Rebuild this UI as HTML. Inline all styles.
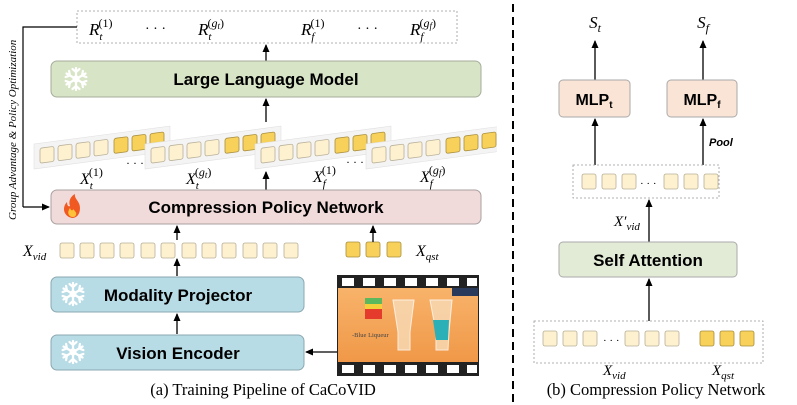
<!DOCTYPE html>
<html><head><meta charset="utf-8"><style>
body{margin:0;background:#fff}
svg{display:block}
.s{font-family:"Liberation Serif",serif}
.b{font-family:"Liberation Sans",sans-serif;font-weight:bold}
</style></head><body>
<svg width="797" height="405" viewBox="0 0 797 405" xmlns="http://www.w3.org/2000/svg">
<defs>
<marker id="a" markerWidth="8" markerHeight="8" refX="7" refY="4" orient="auto" markerUnits="userSpaceOnUse"><path d="M0,0.5 L8,4 L0,7.5 Z" fill="#000"/></marker>
<g id="lt"><rect width="14" height="15" rx="2" fill="#fdf1cf" stroke="#b9b09a" stroke-width="0.8"/></g>
<g id="gt"><rect width="14" height="15" rx="2" fill="#f8d15a" stroke="#a89040" stroke-width="0.8"/></g>
<g id="snow" stroke="#fff" stroke-width="2.2" stroke-linecap="round" fill="none">
<g id="arm"><line x1="0" y1="0" x2="0" y2="-11"/><line x1="0" y1="-7" x2="-3.5" y2="-10"/><line x1="0" y1="-7" x2="3.5" y2="-10"/></g>
<use href="#arm" transform="rotate(60)"/><use href="#arm" transform="rotate(120)"/><use href="#arm" transform="rotate(180)"/><use href="#arm" transform="rotate(240)"/><use href="#arm" transform="rotate(300)"/>
<circle r="2.5"/>
</g>
<g id="strip">
<g transform="skewY(-7.5)">
<rect x="0" y="5" width="136" height="25" fill="#f4f4f4" stroke="#e0e0e0" stroke-width="0.6"/>
<use href="#lt" x="6" y="10"/><use href="#lt" x="24" y="10"/><use href="#lt" x="42" y="10"/><use href="#lt" x="60" y="10"/>
<use href="#gt" x="80" y="10"/><use href="#gt" x="98" y="10"/><use href="#gt" x="116" y="10"/>
</g>
</g>
</defs>

<!-- Left panel -->
<rect x="77" y="11" width="380" height="32" fill="#fff" stroke="#999" stroke-width="0.8" stroke-dasharray="2,2"/>
<g class="s" font-style="italic" font-size="17">
<text x="89" y="35">R<tspan font-size="11" dy="5">t</tspan><tspan font-size="12" dy="-13" dx="-4" font-style="normal">(1)</tspan></text>
<text x="145" y="33" font-style="normal" font-size="14">· · ·</text>
<text x="198" y="35">R<tspan font-size="11" dy="5">t</tspan><tspan font-size="12" dy="-13" dx="-4" font-style="normal">(</tspan><tspan font-size="12">g</tspan><tspan font-size="9" dy="2">t</tspan><tspan font-size="12" dy="-2" font-style="normal">)</tspan></text>
<text x="301" y="35">R<tspan font-size="11" dy="5">f</tspan><tspan font-size="12" dy="-13" dx="-4" font-style="normal">(1)</tspan></text>
<text x="357" y="33" font-style="normal" font-size="14">· · ·</text>
<text x="410" y="35">R<tspan font-size="11" dy="5">f</tspan><tspan font-size="12" dy="-13" dx="-4" font-style="normal">(</tspan><tspan font-size="12">g</tspan><tspan font-size="9" dy="2">f</tspan><tspan font-size="12" dy="-2" font-style="normal">)</tspan></text>
</g>
<line x1="266" y1="61" x2="266" y2="45" stroke="#000" stroke-width="1.3" marker-end="url(#a)"/>
<rect x="51" y="61" width="430" height="36" rx="6" fill="#d8e4c6" stroke="#a5ad9a" stroke-width="1"/>
<use href="#snow" x="76" y="79"/>
<text class="b" x="266" y="85" font-size="17" text-anchor="middle">Large Language Model</text>
<line x1="266" y1="122" x2="266" y2="99" stroke="#000" stroke-width="1.3" marker-end="url(#a)"/>

<use href="#strip" x="34" y="139"/>
<use href="#strip" x="145" y="139"/>
<use href="#strip" x="255" y="139"/>
<svg x="0" y="0" width="497" height="405"><use href="#strip" x="366" y="139"/></svg>
<g class="s" font-size="16" font-style="italic">
<text x="80" y="184">X<tspan font-size="11" dy="5">t</tspan><tspan font-size="12" dy="-13" dx="-4" font-style="normal">(1)</tspan></text>
<text x="186" y="184">X<tspan font-size="11" dy="5">t</tspan><tspan font-size="12" dy="-13" dx="-4" font-style="normal">(</tspan><tspan font-size="12">g</tspan><tspan font-size="9" dy="2">t</tspan><tspan font-size="12" dy="-2" font-style="normal">)</tspan></text>
<text x="313" y="182">X<tspan font-size="11" dy="5">f</tspan><tspan font-size="12" dy="-13" dx="-4" font-style="normal">(1)</tspan></text>
<text x="420" y="182">X<tspan font-size="11" dy="5">f</tspan><tspan font-size="12" dy="-13" dx="-4" font-style="normal">(</tspan><tspan font-size="12">g</tspan><tspan font-size="9" dy="2">f</tspan><tspan font-size="12" dy="-2" font-style="normal">)</tspan></text>
<text x="126" y="167" font-style="normal" font-size="12">· · ·</text>
<text x="346" y="166" font-style="normal" font-size="12">· · ·</text>
</g>
<line x1="266" y1="190" x2="266" y2="172" stroke="#000" stroke-width="1.3" marker-end="url(#a)"/>

<rect x="51" y="190" width="430" height="34" rx="6" fill="#f1dada" stroke="#aaa0a0" stroke-width="1"/>
<path d="M72,218 C63,216 62,207 67,202 C67,206 69,207 70,206 C68,201 71,196 75,194 C74,199 80,201 80,208 C80,214 77,218 72,218 Z" fill="#f05a22"/>
<path d="M72,217 C68,216 67,212 70,208 C71,211 73,211 73,209 C75,211 77,213 76,215 C75,217 74,217 72,217 Z" fill="#ffc23a"/>
<text class="b" x="266" y="213" font-size="17" text-anchor="middle">Compression Policy Network</text>

<!-- feedback -->
<polyline points="77,27 23,27 23,207" fill="none" stroke="#000" stroke-width="1.2"/>
<line x1="23" y1="207" x2="49" y2="207" stroke="#000" stroke-width="1.2" marker-end="url(#a)"/>
<text class="s" font-size="11" font-style="italic" transform="translate(16,220) rotate(-90)">Group Advantage &amp; Policy Optimization</text>

<!-- tokens -->
<text class="s" x="23" y="256" font-size="16" font-style="italic">X<tspan font-size="11" dy="4">vid</tspan></text>
<g>
<use href="#lt" x="60" y="243"/><use href="#lt" x="80" y="243"/><use href="#lt" x="100" y="243"/><use href="#lt" x="120" y="243"/><use href="#lt" x="141" y="243"/><use href="#lt" x="161" y="243"/><use href="#lt" x="182" y="243"/><use href="#lt" x="202" y="243"/><use href="#lt" x="222" y="243"/><use href="#lt" x="243" y="243"/><use href="#lt" x="263" y="243"/><use href="#lt" x="284" y="243"/>
<use href="#gt" x="346" y="242"/><use href="#gt" x="366" y="242"/><use href="#gt" x="387" y="242"/>
</g>
<text class="s" x="416" y="256" font-size="16" font-style="italic">X<tspan font-size="11" dy="4">qst</tspan></text>
<line x1="177" y1="240" x2="177" y2="226" stroke="#000" stroke-width="1.3" marker-end="url(#a)"/>
<line x1="373" y1="242" x2="373" y2="226" stroke="#000" stroke-width="1.3" marker-end="url(#a)"/>
<line x1="177" y1="276" x2="177" y2="259" stroke="#000" stroke-width="1.3" marker-end="url(#a)"/>

<rect x="51" y="277" width="253" height="35" rx="6" fill="#b8dce6" stroke="#8aa8b0" stroke-width="1"/>
<use href="#snow" x="73" y="294"/>
<text class="b" x="178" y="301" font-size="17" text-anchor="middle">Modality Projector</text>
<line x1="177" y1="334" x2="177" y2="314" stroke="#000" stroke-width="1.3" marker-end="url(#a)"/>
<rect x="51" y="335" width="253" height="35" rx="6" fill="#b8dce6" stroke="#8aa8b0" stroke-width="1"/>
<use href="#snow" x="73" y="352"/>
<text class="b" x="178" y="359" font-size="17" text-anchor="middle">Vision Encoder</text>
<line x1="338" y1="352" x2="306" y2="352" stroke="#000" stroke-width="1.3" marker-end="url(#a)"/>

<!-- film -->
<rect x="337" y="275" width="142" height="101" fill="#222"/>
<g fill="#fff">
<rect x="342" y="278" width="12" height="8"/><rect x="363" y="278" width="12" height="8"/><rect x="384" y="278" width="12" height="8"/><rect x="405" y="278" width="12" height="8"/><rect x="426" y="278" width="12" height="8"/><rect x="447" y="278" width="12" height="8"/><rect x="467" y="278" width="10" height="8"/>
<rect x="342" y="365" width="12" height="8"/><rect x="363" y="365" width="12" height="8"/><rect x="384" y="365" width="12" height="8"/><rect x="405" y="365" width="12" height="8"/><rect x="426" y="365" width="12" height="8"/><rect x="447" y="365" width="12" height="8"/><rect x="467" y="365" width="10" height="8"/>
</g>
<defs><linearGradient id="bg" x1="0" y1="0" x2="0" y2="1"><stop offset="0" stop-color="#f8b36a"/><stop offset="1" stop-color="#f09848"/></linearGradient></defs>
<rect x="338" y="288" width="140" height="74" fill="url(#bg)"/>
<rect x="365" y="298" width="17" height="6" fill="#5cb85c"/><rect x="365" y="304" width="17" height="5" fill="#f4d03a"/><rect x="365" y="309" width="17" height="10" fill="#e53b2c"/>
<path d="M393,300 L414,300 L410,332 L410,350 L398,350 L398,332 Z" fill="#f8dcb8" stroke="#fff" stroke-width="1" opacity="0.8"/>
<path d="M430,300 L452,300 L449,332 L448,350 L436,350 L436,332 Z" fill="#f8dcb8" stroke="#fff" stroke-width="1" opacity="0.8"/>
<path d="M433,320 L449,320 L448,340 L436,340 Z" fill="#2bb0b8"/>
<rect x="452" y="288" width="26" height="8" fill="#2a3a5a"/>
<text class="s" x="352" y="337" font-size="6.5" fill="#444">-Blue Liqueur</text>

<text class="s" x="263" y="395" font-size="16.5" text-anchor="middle">(a) Training Pipeline of CaCoVID</text>

<line x1="513" y1="4" x2="513" y2="403" stroke="#000" stroke-width="2" stroke-dasharray="8,5"/>

<!-- Right panel -->
<text class="s" x="595" y="28" font-size="17" font-style="italic" text-anchor="middle">S<tspan font-size="12" dy="4">t</tspan></text>
<text class="s" x="703" y="28" font-size="17" font-style="italic" text-anchor="middle">S<tspan font-size="12" dy="4">f</tspan></text>
<line x1="595" y1="80" x2="595" y2="41" stroke="#000" stroke-width="1.3" marker-end="url(#a)"/>
<line x1="703" y1="80" x2="703" y2="41" stroke="#000" stroke-width="1.3" marker-end="url(#a)"/>
<rect x="559" y="80" width="71" height="37" rx="4" fill="#fae4d6" stroke="#aaa" stroke-width="1"/>
<rect x="667" y="80" width="70" height="37" rx="4" fill="#fae4d6" stroke="#aaa" stroke-width="1"/>
<text class="b" x="594" y="105" font-size="16" text-anchor="middle">MLP<tspan font-size="10" dy="3">t</tspan></text>
<text class="b" x="702" y="105" font-size="16" text-anchor="middle">MLP<tspan font-size="10" dy="3">f</tspan></text>
<line x1="595" y1="165" x2="595" y2="119" stroke="#000" stroke-width="1.3" marker-end="url(#a)"/>
<line x1="703" y1="165" x2="703" y2="119" stroke="#000" stroke-width="1.3" marker-end="url(#a)"/>
<text class="b" x="709" y="146" font-size="11" font-style="italic">Pool</text>
<rect x="573" y="165" width="146" height="33" fill="#fff" stroke="#999" stroke-width="0.8" stroke-dasharray="2,2"/>
<use href="#lt" x="582" y="174"/><use href="#lt" x="602" y="174"/><use href="#lt" x="622" y="174"/>
<text class="s" x="640" y="187" font-size="11">· · ·</text>
<use href="#lt" x="664" y="174"/><use href="#lt" x="684" y="174"/><use href="#lt" x="704" y="174"/>
<line x1="649" y1="242" x2="649" y2="200" stroke="#000" stroke-width="1.3" marker-end="url(#a)"/>
<text class="s" x="614" y="226" font-size="15" font-style="italic">X′<tspan font-size="11" dy="4">vid</tspan></text>
<rect x="559" y="242" width="178" height="35" rx="4" fill="#e2ebd6" stroke="#aaa" stroke-width="1"/>
<text class="b" x="648" y="266" font-size="17" text-anchor="middle">Self Attention</text>
<line x1="649" y1="321" x2="649" y2="279" stroke="#000" stroke-width="1.3" marker-end="url(#a)"/>
<rect x="534" y="321" width="229" height="42" fill="#fff" stroke="#999" stroke-width="0.8" stroke-dasharray="2,2"/>
<use href="#lt" x="543" y="331"/><use href="#lt" x="563" y="331"/><use href="#lt" x="583" y="331"/>
<text class="s" x="603" y="344" font-size="11">· · ·</text>
<use href="#lt" x="625" y="331"/><use href="#lt" x="645" y="331"/><use href="#lt" x="665" y="331"/>
<use href="#gt" x="700" y="331"/><use href="#gt" x="720" y="331"/><use href="#gt" x="740" y="331"/>
<text class="s" x="603" y="375" font-size="15" font-style="italic">X<tspan font-size="11" dy="4">vid</tspan></text>
<text class="s" x="712" y="375" font-size="15" font-style="italic">X<tspan font-size="11" dy="4">qst</tspan></text>
<text class="s" x="656" y="395" font-size="16.5" text-anchor="middle">(b) Compression Policy Network</text>
</svg>
</body></html>
